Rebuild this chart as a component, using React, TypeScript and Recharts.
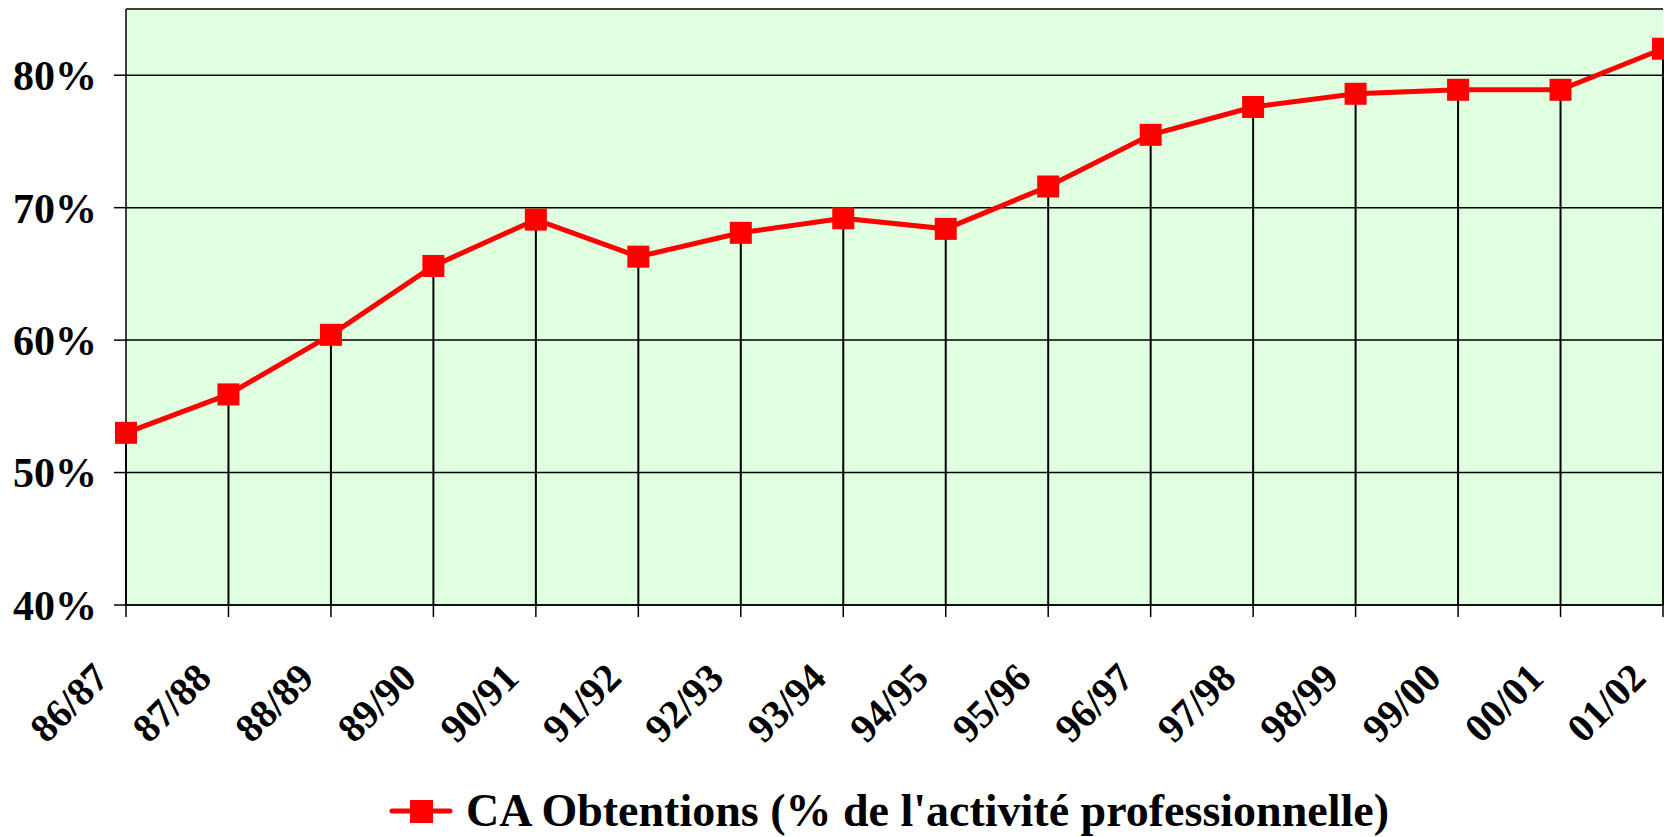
import { CartesianGrid, Legend, Line, LineChart, ReferenceLine, XAxis, YAxis } from "recharts";

const seasons = [
  "86/87", "87/88", "88/89", "89/90", "90/91", "91/92", "92/93", "93/94",
  "94/95", "95/96", "96/97", "97/98", "98/99", "99/00", "00/01", "01/02",
];
const caObtentions = [
  53.0, 55.9, 60.4, 65.6, 69.1, 66.3, 68.1, 69.2,
  68.4, 71.6, 75.5, 77.6, 78.6, 78.9, 78.9, 82.0,
];
const yTicks = [40, 50, 60, 70, 80];
const seriesName = "CA Obtentions (% de l'activité professionnelle)";

const FONT = "'Liberation Serif', 'Times New Roman', serif";
const RED = "#FF0000";

const data = seasons.map((season, i) => ({ season, value: caObtentions[i] }));

const SeasonTick = (props: any) => {
  const { x, y, payload } = props;
  return (
    <g transform={`translate(${x - 15},${y + 61})`}>
      <text
        transform="rotate(-45)"
        textAnchor="end"
        fontFamily={FONT}
        fontSize={40}
        fontWeight="bold"
        fill="#000"
      >
        {payload.value}
      </text>
    </g>
  );
};

const SquareDot = (props: any) => {
  const { cx, cy, index } = props;
  if (cx == null || cy == null) return <g key={`dot-${index}`} />;
  return <rect key={`dot-${index}`} x={cx - 11} y={cy - 11} width={22} height={22} fill={RED} />;
};

const LegendContent = () => (
  <div
    style={{
      width: 1664,
      height: 52,
      boxSizing: "border-box",
      paddingLeft: 114,
      display: "flex",
      alignItems: "center",
      justifyContent: "center",
    }}
  >
    <svg width={64} height={30} style={{ display: "block" }}>
      <line x1={3} y1={15} x2={61} y2={15} stroke={RED} strokeWidth={5} strokeLinecap="round" />
      <rect x={21} y={4} width={23} height={23} fill={RED} />
    </svg>
    <span
      style={{
        marginLeft: 13,
        fontFamily: FONT,
        fontSize: 46,
        fontWeight: "bold",
        lineHeight: "52px",
        color: "#000",
        whiteSpace: "nowrap",
      }}
    >
      {seriesName}
    </span>
  </div>
);

export default function App() {
  return (
    <div style={{ position: "absolute", left: 0, top: 0 }}>
      <LineChart
        width={1664}
        height={837}
        data={data}
        margin={{ top: 9, right: 1, left: 0, bottom: 0 }}
      >
        <CartesianGrid
          vertical={false}
          stroke="#000"
          strokeWidth={1.5}
          fill="#E0FFE0"
          fillOpacity={1}
        />
        <XAxis
          dataKey="season"
          interval={0}
          height={180}
          tickSize={12}
          tickMargin={2}
          axisLine={{ stroke: "#000", strokeWidth: 1.5 }}
          tickLine={{ stroke: "#000", strokeWidth: 1.5 }}
          tick={<SeasonTick />}
        />
        <YAxis
          type="number"
          domain={[40, 85]}
          ticks={yTicks}
          width={126}
          tickSize={12}
          tickMargin={17}
          tickFormatter={(v: number) => `${v}%`}
          axisLine={{ stroke: "#000", strokeWidth: 1.5 }}
          tickLine={{ stroke: "#000", strokeWidth: 1.5 }}
          tick={{ fill: "#000", fontFamily: FONT, fontSize: 42, fontWeight: "bold" }}
        />
        {seasons.map((s, i) => (
          <ReferenceLine
            key={s}
            segment={[
              { x: s, y: 40 },
              { x: s, y: caObtentions[i] },
            ]}
            stroke="#000"
            strokeWidth={2}
          />
        ))}
        <Line
          type="linear"
          dataKey="value"
          name={seriesName}
          stroke={RED}
          strokeWidth={5}
          dot={SquareDot}
          activeDot={false}
          isAnimationActive={false}
        />
        <Legend
          verticalAlign="bottom"
          height={52}
          content={<LegendContent />}
          wrapperStyle={{ left: 0, bottom: 0, width: 1664, height: 52 }}
        />
      </LineChart>
    </div>
  );
}
